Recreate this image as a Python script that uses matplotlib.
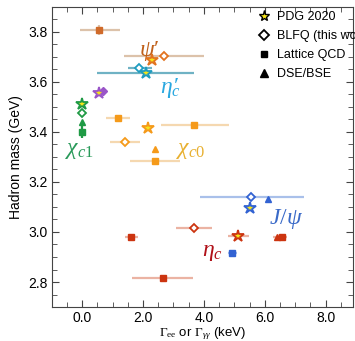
import matplotlib
matplotlib.use('Agg')
from matplotlib import pyplot as plt
from matplotlib.lines import Line2D
from matplotlib.ticker import MultipleLocator

plt.rcParams['font.family'] = 'Liberation Sans'
plt.rcParams['mathtext.fontset'] = 'custom'
plt.rcParams['mathtext.rm'] = 'Liberation Serif'
plt.rcParams['mathtext.it'] = 'Liberation Serif:italic'
plt.rcParams['mathtext.bf'] = 'Liberation Serif:bold'

# colours per state
col = {'psi2s': '#e2731f', 'etac2': '#1e9cc0', 'chic1': '#1f9a45', 'chic2': '#9a55c8',
       'chic0': '#f59a1a', 'jpsi': '#3262d2', 'etac': '#cc3410', 'psi2s_lat': '#d06a2a'}
barcol = {'psi2s': '#dcc2aa', 'etac2': '#6fb2c4', 'chic1': '#1f9a45', 'chic2': '#9a55c8',
          'chic0': '#f5d8b0', 'jpsi': '#a9c0ea', 'etac': '#ebb3a3', 'psi2s_lat': '#dcc2aa'}

# PDG 2020 (stars)
pdg_state = ['psi2s', 'etac2', 'chic1', 'chic2', 'chic0', 'jpsi', 'etac']
pdg_x = [2.31, 2.10, 0.00, 0.56, 2.17, 5.50, 5.11]
pdg_y = [3.686, 3.637, 3.511, 3.556, 3.415, 3.097, 2.984]
pdg_xlo = [2.31, 0.49, 0.00, 0.56, 2.17, 5.50, 4.79]
pdg_xhi = [2.31, 3.69, 0.00, 0.56, 2.17, 5.50, 5.49]

# BLFQ (open diamonds)
blfq_state = ['psi2s', 'etac2', 'chic1', 'chic2', 'chic0', 'jpsi', 'etac']
blfq_x = [2.69, 1.88, 0.00, 0.68, 1.40, 5.55, 3.68]
blfq_y = [3.705, 3.657, 3.476, 3.564, 3.359, 3.139, 3.015]
blfq_xlo = [1.39, 1.50, 0.00, 0.68, 0.90, 3.88, 3.08]
blfq_xhi = [3.99, 2.30, 0.00, 0.68, 1.90, 7.29, 4.28]

# Lattice QCD (squares)
lat_state = ['psi2s_lat', 'chic1', 'chic0', 'chic0', 'chic0', 'etac', 'etac', 'etac', 'jpsi']
lat_x = [0.57, 0.00, 1.17, 3.69, 2.40, 1.61, 2.64, 6.56, 4.93]
lat_y = [3.808, 3.399, 3.455, 3.428, 3.285, 2.978, 2.817, 2.981, 2.917]
lat_xlo = [-0.08, 0.00, 0.79, 2.59, 1.57, 1.42, 1.64, 6.27, 4.80]
lat_xhi = [1.23, 0.00, 1.56, 4.81, 3.20, 1.82, 3.64, 6.74, 5.10]
lat_yerr = [0.02, 0.025, 0, 0, 0, 0, 0, 0, 0]

# DSE/BSE (triangles)
dse_state = ['chic1', 'chic0', 'jpsi', 'etac']
dse_x = [0.00, 2.38, 6.12, 6.39]
dse_y = [3.438, 3.331, 3.131, 2.979]

# state labels
lab_text = [r'$\psi\prime$', r'$\eta_c\!\!\prime$', r'$\chi_{c1}$', r'$\chi_{c0}$',
            r'$J/\psi$', r'$\eta_c$']
lab_x = [2.22, 2.90, -0.09, 3.55, 6.70, 4.28]
lab_y = [3.725, 3.575, 3.328, 3.326, 3.05, 2.922]
lab_col = ['#c0601a', '#2aa8e0', '#2a9a5a', '#e8b030', '#3a6ac8', '#b01018']

fig = plt.figure(figsize=(3.55, 3.41), dpi=100)
ax = fig.add_axes([0.1456, 0.0997, 0.8490, 0.8798])


def draw(states, xs, ys, xlo, xhi, marker, ms, open_face=False, yerr=None):
    for i, s in enumerate(states):
        ye = None if yerr is None else yerr[i]
        ax.errorbar(xs[i], ys[i], xerr=[[xs[i] - xlo[i]], [xhi[i] - xs[i]]], yerr=ye,
                    fmt='none', ecolor=barcol[s], elinewidth=1.6, capsize=0, zorder=2)
        if marker == '*':
            ax.plot(xs[i], ys[i], marker='*', ms=ms, mfc='#f5e41a', mec=col[s], mew=1.3,
                    ls='none', zorder=4)
        elif open_face and s != 'chic2':
            ax.plot(xs[i], ys[i], marker=marker, ms=ms, mfc='white', mec=col[s], mew=1.3,
                    ls='none', zorder=3)
        else:
            ax.plot(xs[i], ys[i], marker=marker, ms=ms, color=col[s], ls='none', zorder=3)


draw(blfq_state, blfq_x, blfq_y, blfq_xlo, blfq_xhi, 'D', 4.5, open_face=True)
draw(lat_state, lat_x, lat_y, lat_xlo, lat_xhi, 's', 4.0, yerr=lat_yerr)
draw(dse_state, dse_x, dse_y, dse_x, dse_x, '^', 5.0)
draw(pdg_state, pdg_x, pdg_y, pdg_xlo, pdg_xhi, '*', 9.0)

for t, x, y, c in zip(lab_text, lab_x, lab_y, lab_col):
    ax.text(x, y, t, color=c, fontsize=17, ha='center', va='center')

ax.set_xlim(-1.0, 8.9)
ax.set_ylim(2.7, 3.9)
ax.xaxis.set_major_locator(MultipleLocator(2.0))
ax.xaxis.set_minor_locator(MultipleLocator(0.5))
ax.yaxis.set_major_locator(MultipleLocator(0.2))
ax.yaxis.set_minor_locator(MultipleLocator(0.05))
ax.xaxis.set_major_formatter(plt.FormatStrFormatter('%.1f'))
ax.yaxis.set_major_formatter(plt.FormatStrFormatter('%.1f'))
ax.tick_params(which='both', direction='in', top=True, right=True, color='#444444')
ax.tick_params(which='major', length=5, labelsize=10, pad=3)
ax.tick_params(which='minor', length=3.5)
for sp in ax.spines.values():
    sp.set_color('#444444')

ax.set_xlabel(r'$\Gamma_{\rm ee}$ or $\Gamma_{\gamma\gamma}$ (keV)', fontsize=9.5, labelpad=0)
ax.set_ylabel('Hadron mass (GeV)', fontsize=10, labelpad=4)

handles = [
    Line2D([], [], marker='*', ms=8, mfc='#f5e41a', mec='black', mew=1.0, ls='none'),
    Line2D([], [], marker='D', ms=5, mfc='white', mec='black', mew=1.3, ls='none'),
    Line2D([], [], marker='s', ms=5, color='black', ls='none'),
    Line2D([], [], marker='^', ms=6, color='black', ls='none'),
]
ax.legend(handles, ['PDG 2020', 'BLFQ (this work)', 'Lattice QCD', 'DSE/BSE'],
          loc='upper left', bbox_to_anchor=(0.66, 1.01), frameon=False, fontsize=9,
          handlelength=1.0, handletextpad=0.5, labelspacing=0.55, borderaxespad=0.2)

fig.savefig('out.png', dpi=100)
